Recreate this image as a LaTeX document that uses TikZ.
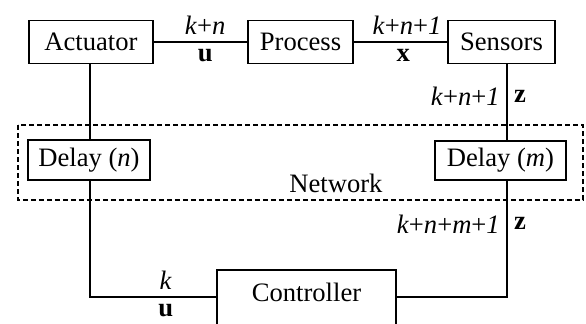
\documentclass[tikz,border=0pt]{standalone}
\usepackage{fontspec}
\setmainfont{Liberation Serif}
\begin{document}
\begin{tikzpicture}[x=0.5pt,y=-0.5pt,
		blk/.style={draw,line width=0.8pt,inner sep=0pt,minimum height=21.5pt},
		wire/.style={line width=0.8pt},
		lbl/.style={inner sep=3.2pt}]
	\fontsize{13.3}{16}\selectfont
		\useasboundingbox (0,0) rectangle (586,323);
		
		\draw[line width=0.7pt,dash pattern=on 2.6pt off 1.4pt] (18,125) rectangle (583,200);
		\node (net) at (336,183) {Network};
		
		\node[blk,minimum width=62pt] (act) at (91,42) {Actuator};
		\node[blk,minimum width=52.5pt] (proc) at (300.5,42) {Process};
		\node[blk,minimum width=53.5pt] (sens) at (501.5,42) {Sensors};
		\node[blk,minimum width=61pt,minimum height=20pt,fill=white] (dn) at (89,160) {Delay (\textit{n})};
		\node[blk,minimum width=65.5pt,minimum height=19.5pt,fill=white] (dm) at (500.5,160.5) {Delay (\textit{m})};
		\node[blk,minimum width=89.5pt,minimum height=30pt] (ctrl) at (306.5,300) {};
		\node (ctrltxt) at (306.5,292) {Controller};
		
		\coordinate (ux) at (90,297);
		\coordinate (zx) at (507,297);
		
		\draw[wire] (act) -- node[lbl,above,pos=0.55]{\textit{k}+\textit{n}} node[lbl,below,pos=0.55]{\textbf{u}} (proc);
		\draw[wire] (proc) -- node[lbl,above,pos=0.57]{\textit{k}+\textit{n}+\textit{1}} node[lbl,below,pos=0.53]{\textbf{x}} (sens);
		
		\draw[wire] (sens.south -| zx) -- node[lbl,left,pos=0.42]{\textit{k}+\textit{n}+\textit{1}} node[lbl,right,pos=0.42]{\textbf{z}} (dm.north -| zx);
		\draw[wire] (dm.south -| zx) -- node[lbl,left,pos=0.37]{\textit{k}+\textit{n}+\textit{m}+\textit{1}} node[lbl,right,pos=0.37]{\textbf{z}} (zx) -- (ctrl.east |- zx);
		
		\draw[wire] (act.south -| ux) -- (dn.north -| ux);
		\draw[wire] (dn.south -| ux) -- (ux) -- node[lbl,above,pos=0.6]{\textit{k}} node[lbl,below,pos=0.6]{\textbf{u}} (ctrl.west |- ux);
	\end{tikzpicture}
\end{document}
